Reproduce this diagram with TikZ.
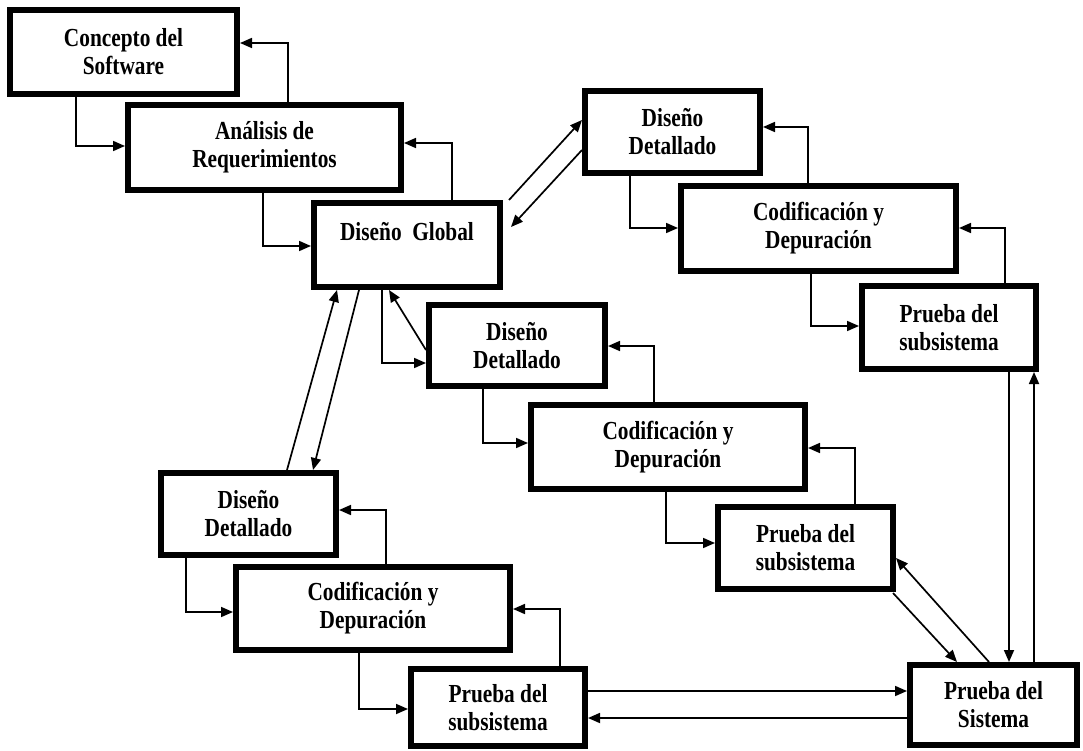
\documentclass[tikz,border=0pt]{standalone}
\usepackage{fontspec}
\setmainfont{Liberation Serif}
\newfontfamily\boxfont{Liberation Serif}[FakeStretch=0.82]
\usetikzlibrary{arrows.meta,calc}
\begin{document}
\begin{tikzpicture}[x=1pt,y=-1pt,
  box/.style={draw=black, line width=6pt, fill=white, inner sep=0pt, align=center,
    font=\boxfont\fontsize{26}{28}\selectfont\bfseries},
  arr/.style={draw=black, line width=1.7pt, -{Triangle[length=12pt,width=10pt]}}]
\useasboundingbox (0,0) rectangle (1083,751);
% boxes (centre, size = outer size - line width)
\node[box, minimum width=227pt, minimum height=84pt] (C)  at (123.5,52)  {Concepto del\\Software};
\node[box, minimum width=273pt, minimum height=85pt] (A)  at (264.5,147.5) {Análisis de\\Requerimientos};
\node[box, minimum width=186pt, minimum height=84pt] (G)  at (407,245)   {Diseño\ \ Global\\\mbox{}};
\node[box, minimum width=175pt, minimum height=82pt] (D1) at (672.5,132)  {Diseño\\Detallado};
\node[box, minimum width=275pt, minimum height=85pt] (K1) at (818.5,228.5) {Codificación y\\Depuración};
\node[box, minimum width=174pt, minimum height=83pt] (P1) at (949,327.5)  {Prueba del\\subsistema};
\node[box, minimum width=176pt, minimum height=81pt] (D2) at (517,345.5)  {Diseño\\Detallado};
\node[box, minimum width=274pt, minimum height=84pt] (K2) at (668,447)    {Codificación y\\Depuración};
\node[box, minimum width=175pt, minimum height=82pt] (P2) at (805.5,548)  {Prueba del\\subsistema};
\node[box, minimum width=175pt, minimum height=82pt] (D3) at (248.5,514)  {Diseño\\Detallado};
\node[box, minimum width=274pt, minimum height=83pt] (K3) at (373,608.5)  {Codificación y\\Depuración};
\node[box, minimum width=174pt, minimum height=77pt] (P3) at (498,707.5)  {Prueba del\\subsistema};
\node[box, minimum width=167pt, minimum height=80pt] (S)  at (993.5,705)  {Prueba del\\Sistema};
% top chain
\draw[arr] (C.south -| 76,0) |- (A.west |- 0,146);
\draw[arr] (A.north -| 288,0) |- (C.east |- 0,43);
\draw[arr] (A.south -| 263,0) |- (G.west |- 0,246);
\draw[arr] (G.north -| 452,0) |- (A.east |- 0,143);
% global <-> upper branch
\draw[arr] ($(G.north east)+(6,0)$) -- (D1.west |- 0,120);
\draw[arr] (D1.west |- 0,150) -- ($(G.east)+(8,-18)$);
\draw[arr] (D1.south -| 630,0) |- (K1.west |- 0,228);
\draw[arr] (K1.north -| 808,0) |- (D1.east |- 0,127);
\draw[arr] (K1.south -| 811,0) |- (P1.west |- 0,326);
\draw[arr] (P1.north -| 1005,0) |- (K1.east |- 0,228);
\draw[arr] (P1.south -| 1009,0) -- (S.north -| 1009,0);
\draw[arr] (S.north -| 1034,0) -- (P1.south -| 1034,0);
% global <-> middle branch
\draw[arr] (G.south -| 382,0) |- (D2.west |- 0,363);
\draw[arr] (D2.west |- 0,350) -- (G.south -| 389,0);
\draw[arr] (D2.south -| 483,0) |- (K2.west |- 0,443);
\draw[arr] (K2.north -| 654,0) |- (D2.east |- 0,346);
\draw[arr] (K2.south -| 666,0) |- (P2.west |- 0,543);
\draw[arr] (P2.north -| 855,0) |- (K2.east |- 0,448);
\draw[arr] ($(P2.south east)+(-3,1)$) -- (S.north -| 957,0);
\draw[arr] (S.north -| 989,0) -- (P2.east |- 0,558);
% global <-> lower branch
\draw[arr] (D3.north -| 287,0) -- (G.south -| 337,0);
\draw[arr] (G.south -| 359,0) -- (D3.north -| 313,0);
\draw[arr] (D3.south -| 186,0) |- (K3.west |- 0,612);
\draw[arr] (K3.north -| 386,0) |- (D3.east |- 0,510);
\draw[arr] (K3.south -| 359,0) |- (P3.west |- 0,709);
\draw[arr] (P3.north -| 560,0) |- (K3.east |- 0,609);
\draw[arr] (P3.east |- 0,691) -- (S.west |- 0,691);
\draw[arr] (S.west |- 0,718) -- (P3.east |- 0,718);
\end{tikzpicture}
\end{document}
